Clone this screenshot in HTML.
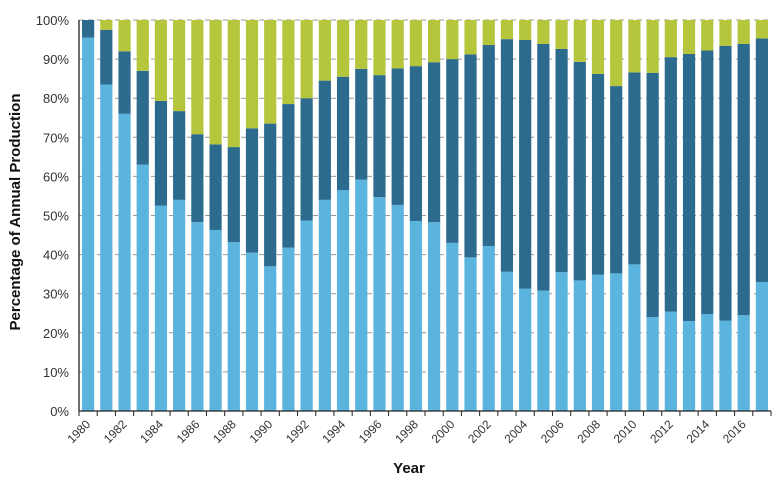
<!DOCTYPE html>
<html><head><meta charset="utf-8"><style>
body{margin:0;background:#fff;}
svg{display:block;font-family:"Liberation Sans",sans-serif;}
</style></head><body>
<svg id="chart" width="783" height="487" viewBox="0 0 783 487"></svg>
<script>
const years = [1980,1981,1982,1983,1984,1985,1986,1987,1988,1989,1990,1991,1992,1993,1994,1995,1996,1997,1998,1999,2000,2001,2002,2003,2004,2005,2006,2007,2008,2009,2010,2011,2012,2013,2014,2015,2016,2017];
const lightSeries = [95.5,83.5,76,63,52.5,54,48.3,46.3,43.2,40.5,37,41.8,48.7,54,56.5,59.2,54.7,52.7,48.6,48.3,43,39.3,42.2,35.6,31.3,30.8,35.5,33.4,34.9,35.2,37.5,24,25.4,23,24.8,23.1,24.5,33];
const darkSeries = [4.5,14,16,24,26.8,22.7,22.5,21.9,24.3,31.8,36.5,36.7,31.3,30.5,29,28.3,31.2,34.9,39.6,40.9,47,51.9,51.4,59.5,63.6,63.1,57.1,55.9,51.3,47.9,49.1,62.5,65.1,68.3,67.4,70.3,69.4,62.3];
const greenSeries = [0,2.5,8,13,20.7,23.3,29.2,31.8,32.5,27.7,26.5,21.5,20,15.5,14.5,12.5,14.1,12.4,11.8,10.8,10,8.8,6.4,4.9,5.1,6.1,7.4,10.7,13.8,16.9,13.4,13.5,9.5,8.7,7.8,6.6,6.1,4.7];
const yTicks = [0,10,20,30,40,50,60,70,80,90,100];

const NS='http://www.w3.org/2000/svg';
const svg=document.getElementById('chart');
const X0=79,X1=771,Y0=411,Y1=20;
const slot=(X1-X0)/years.length, bw=12.2;
const y=v=>Y0-(v/100)*(Y0-Y1);
const xc=i=>X0+slot*(i+0.5);
function mk(tag,attrs,txt){const e=document.createElementNS(NS,tag);for(const k in attrs)e.setAttribute(k,attrs[k]);if(txt!==undefined)e.textContent=txt;svg.appendChild(e);return e;}

yTicks.forEach(t=>{
  if(t>0){const g=mk('line',{x1:X0,x2:X1,y1:y(t),y2:y(t),stroke:'#9a9a9a','stroke-width':1,'stroke-dasharray':'5,4'});
  
  }
  const l=mk('text',{x:69,y:y(t)+5,'text-anchor':'end','font-size':13,fill:'#333'},t+'%');
  
  
});

const cols=['#5ab4dd','#2d6b8e','#b5c63d'];
years.forEach((yr,i)=>{
  const vals=[lightSeries[i],darkSeries[i],greenSeries[i]];
  let base=0;
  vals.forEach((v,k)=>{
    const r=mk('rect',{x:xc(i)-bw/2,y:y(base+v),width:bw,height:y(base)-y(base+v),fill:cols[k]});
    
    
    base+=v;
  });
});

const ax=mk('line',{x1:X0,x2:X1,y1:Y0,y2:Y0,stroke:'#222','stroke-width':1.3});


const ay=mk('line',{x1:X0,x2:X0,y1:Y1,y2:Y0,stroke:'#222','stroke-width':1.3});



for(let i=0;i<=years.length;i++){
  const tx=X0+slot*i;
  const t=mk('line',{x1:tx,x2:tx,y1:Y0,y2:Y0+5,stroke:'#222','stroke-width':1});
  
  
}
years.forEach((yr,i)=>{
  if(i%2===0){
    const cx=xc(i)+3, cy=Y0+14;
    const l=mk('text',{x:cx,y:cy,'text-anchor':'end','font-size':12,fill:'#333',transform:`rotate(-45 ${cx} ${cy})`},String(yr));
    
    
  }
});

const yt=mk('text',{x:0,y:0,'text-anchor':'middle','font-size':15,'font-weight':'bold',fill:'#111',transform:'translate(20 212) rotate(-90)'},'Percentage of Annual Production');


const xt=mk('text',{x:409,y:473,'text-anchor':'middle','font-size':15,'font-weight':'bold',fill:'#111'},'Year');


</script>
</body></html>
